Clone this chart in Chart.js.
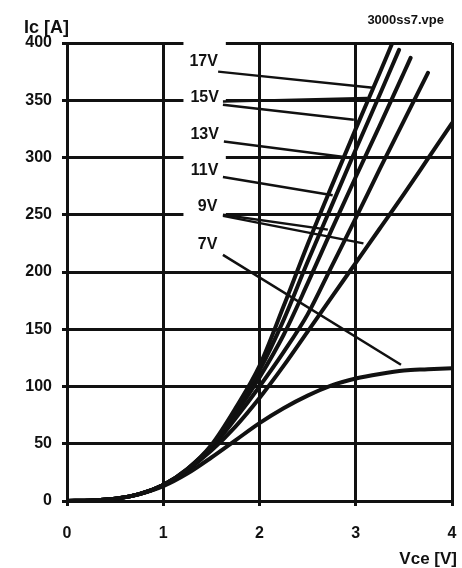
<!DOCTYPE html>
<html>
<head>
<meta charset="utf-8">
<script src="https://cdn.jsdelivr.net/npm/chart.js@4"></script>
<style>
  html, body { margin: 0; padding: 0; background: #fff; }
  #wrap { width: 462px; height: 568px; }
</style>
</head>
<body>
<div id="wrap"><canvas id="icchart" width="462" height="568"></canvas></div>
<script>
// Output characteristic Ic = f(Vce), one curve per gate voltage
var gateLabels = ["17V", "15V", "13V", "11V", "9V", "7V"];

var vce17 = [0, 0.25, 0.5, 0.75, 1.0, 1.25, 1.5, 1.75, 2.0, 2.25, 2.5, 2.75, 3.0, 3.25, 3.38];
var ic17  = [0, 0.5, 2, 6, 14, 28, 49, 81, 118, 170, 224, 275, 325, 374, 400];

var vce15 = [0, 0.25, 0.5, 0.75, 1.0, 1.25, 1.5, 1.75, 2.0, 2.25, 2.5, 2.75, 3.0, 3.25, 3.45];
var ic15  = [0, 0.5, 2, 6, 14, 28, 48, 79, 114, 158, 209, 258, 307, 355, 394];

var vce13 = [0, 0.25, 0.5, 0.75, 1.0, 1.25, 1.5, 1.75, 2.0, 2.25, 2.5, 2.75, 3.0, 3.25, 3.5, 3.57];
var ic13  = [0, 0.5, 2, 6, 14, 27, 47, 76, 108, 145, 190, 237, 283, 328, 374, 387];

var vce11 = [0, 0.25, 0.5, 0.75, 1.0, 1.25, 1.5, 1.75, 2.0, 2.25, 2.5, 2.75, 3.0, 3.25, 3.5, 3.75];
var ic11  = [0, 0.5, 2, 6, 14, 27, 46, 72, 100, 130, 163, 205, 247, 290, 332, 374];

var vce9 = [0, 0.25, 0.5, 0.75, 1.0, 1.25, 1.5, 1.75, 2.0, 2.25, 2.5, 2.75, 3.0, 3.25, 3.5, 3.75, 4.0];
var ic9  = [0, 0.5, 2, 6, 14, 27, 44, 65, 90, 118, 148, 178, 208, 238, 268, 299, 330];

var vce7 = [0, 0.25, 0.5, 0.75, 1.0, 1.25, 1.5, 1.75, 2.0, 2.25, 2.5, 2.75, 3.0, 3.25, 3.5, 3.75, 4.0];
var ic7  = [0, 0.5, 2, 6, 13, 24, 38, 53, 68, 81, 92, 101, 107, 111, 114, 115, 116];

// where each curve label sits (data units)
var labelVce = [1.42, 1.43, 1.43, 1.43, 1.46, 1.46];
var labelIc  = [384, 352, 320, 289, 257, 224];

// leader lines from the labels to the curves
var leaderFromVce = [1.57, 1.62, 1.62, 1.63, 1.62, 1.62, 1.62, 1.62];
var leaderFromIc  = [375, 349, 346, 314, 283, 250, 249, 215];
var leaderToVce   = [3.18, 3.12, 2.98, 2.92, 2.76, 2.71, 3.08, 3.47];
var leaderToIc    = [361, 352, 333, 300, 267, 237, 225, 119];

var xTicks = [0, 1, 2, 3, 4];
var yTicks = [0, 50, 100, 150, 200, 250, 300, 350, 400];

var ink = "#111";
var face = "'Liberation Sans', Arial, sans-serif";

function pts(xs, ys) {
    return xs.map(function (v, i) { return { x: v, y: ys[i] }; });
}

var curves = [
    pts(vce17, ic17), pts(vce15, ic15), pts(vce13, ic13),
    pts(vce11, ic11), pts(vce9, ic9), pts(vce7, ic7)
];

var datasets = curves.map(function (c, i) {
    return {
        label: gateLabels[i],
        data: c,
        borderColor: ink,
        borderWidth: 4,
        borderCapStyle: "round",
        pointRadius: 0,
        cubicInterpolationMode: "monotone",
        fill: false
    };
});

leaderFromVce.forEach(function (v, i) {
    datasets.push({
        label: "leader" + i,
        data: [{ x: v, y: leaderFromIc[i] }, { x: leaderToVce[i], y: leaderToIc[i] }],
        borderColor: ink,
        borderWidth: 2.5,
        pointRadius: 0,
        fill: false
    });
});

// labels, axis names and the gaps in the grid behind the labels
var annotate = {
    id: "annotate",
    beforeDatasetsDraw: function (chart) {
        var ctx = chart.ctx, x = chart.scales.x, y = chart.scales.y;
        var x0 = x.getPixelForValue(1.21), x1 = x.getPixelForValue(1.65);
        ctx.save();
        ctx.fillStyle = "#fff";
        [250, 300, 350, 400].forEach(function (v) {
            var py = y.getPixelForValue(v);
            ctx.fillRect(x0, py - 3, x1 - x0, 6);
        });
        ctx.restore();
    },
    afterDatasetsDraw: function (chart) {
        var ctx = chart.ctx, x = chart.scales.x, y = chart.scales.y;
        ctx.save();
        ctx.fillStyle = ink;
        ctx.font = "bold 16px " + face;
        ctx.textAlign = "center";
        ctx.textBaseline = "middle";
        gateLabels.forEach(function (t, i) {
            ctx.fillText(t, x.getPixelForValue(labelVce[i]), y.getPixelForValue(labelIc[i]));
        });
        ctx.textBaseline = "alphabetic";
        ctx.textAlign = "left";
        ctx.font = "bold 18px " + face;
        ctx.fillText("Ic [A]", 24, 33);
        ctx.textAlign = "right";
        ctx.font = "bold 17px " + face;
        ctx.fillText("Vce [V]", 457, 564);
        ctx.font = "bold 13px " + face;
        ctx.fillText("3000ss7.vpe", 444, 24);
        ctx.restore();
    }
};

var gridStyle = {
    color: ink,
    lineWidth: 3,
    tickLength: 5,
    drawTicks: true,
    tickColor: ink,
    tickWidth: 3
};

new Chart(document.getElementById("icchart").getContext("2d"), {
    type: "line",
    data: { datasets: datasets },
    options: {
        responsive: false,
        animation: false,
        events: [],
        layout: { padding: { left: 0, top: 43, right: 0, bottom: 0 } },
        plugins: { legend: { display: false }, tooltip: { enabled: false } },
        scales: {
            x: {
                type: "linear",
                min: 0, max: 4,
                afterBuildTicks: function (s) { s.ticks = xTicks.map(function (v) { return { value: v }; }); },
                afterFit: function (s) { s.height = 67; s.paddingRight = 10; },
                grid: gridStyle,
                border: { color: ink, width: 3 },
                ticks: {
                    color: ink,
                    padding: 18,
                    maxRotation: 0,
                    font: { family: face, size: 16, weight: "bold" }
                }
            },
            y: {
                type: "linear",
                min: 0, max: 400,
                afterBuildTicks: function (s) { s.ticks = yTicks.map(function (v) { return { value: v }; }); },
                afterFit: function (s) { s.width = 67; },
                grid: gridStyle,
                border: { color: ink, width: 3 },
                ticks: {
                    color: ink,
                    padding: 10,
                    font: { family: face, size: 16, weight: "bold" }
                }
            }
        }
    },
    plugins: [annotate]
});
</script>
</body>
</html>
